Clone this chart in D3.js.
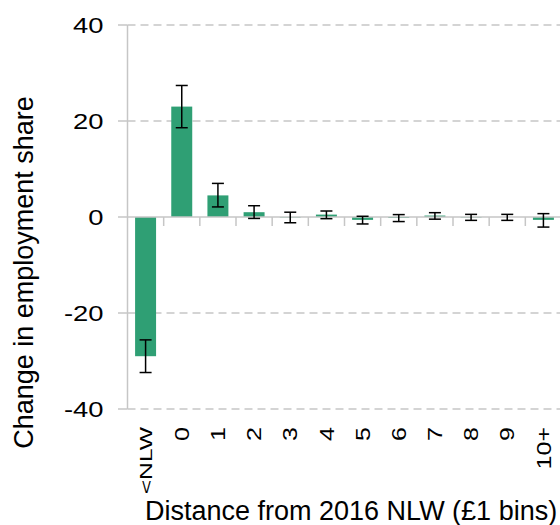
<!DOCTYPE html>
<html>
<head>
<meta charset="utf-8">
<script src="https://cdn.jsdelivr.net/npm/d3@7"></script>
<style>
  html, body { margin: 0; padding: 0; background: #fff; }
  svg { display: block; font-family: "Liberation Sans", Arial, sans-serif; }
</style>
</head>
<body>
<svg id="chart" width="560" height="525"></svg>
<script>
// Distance-from-NLW bins and estimated change in employment share
const categories = ["<NLW", "0", "1", "2", "3", "4", "5", "6", "7", "8", "9", "10+"];
const shareChange = [-29.0, 23.0, 4.5, 1.0, -0.1, 0.5, -0.6, -0.2, 0.3, -0.1, 0.0, -0.6];
const ciLower = [-32.4, 18.6, 2.1, -0.3, -1.2, -0.35, -1.45, -0.95, -0.45, -0.7, -0.7, -2.1];
const ciUpper = [-25.6, 27.4, 7.0, 2.35, 1.0, 1.25, 0.15, 0.5, 0.9, 0.55, 0.55, 0.7];
const yTicks = [-40, -20, 0, 20, 40];

const rows = categories.map((c, i) => ({ cat: c, v: shareChange[i], lo: ciLower[i], hi: ciUpper[i] }));

const svg = d3.select("#chart");
const axisGrey = "#c6c6c6";
const barColour = "#2f9f74";

const plotLeft = 127.5, plotRight = 561.5, plotTop = 25, plotBottom = 409;

const x = d3.scaleBand().domain(categories).range([plotLeft, plotRight])
  .paddingInner(0.42).paddingOuter(0.21);
const y = d3.scaleLinear().domain([-40, 40]).range([plotBottom, plotTop]);
const step = x.step();

// dashed gridlines (zero line is drawn solid later)
svg.append("g").selectAll("line")
  .data(yTicks.filter(t => t !== 0))
  .join("line")
  .attr("x1", plotLeft).attr("x2", 560)
  .attr("y1", d => y(d)).attr("y2", d => y(d))
  .attr("stroke", axisGrey).attr("stroke-width", 1.5)
  .attr("stroke-dasharray", "8,5");

// bars
svg.append("g").selectAll("rect")
  .data(rows)
  .join("rect")
  .attr("x", d => x(d.cat))
  .attr("width", x.bandwidth())
  .attr("y", d => y(Math.max(0, d.v)))
  .attr("height", d => Math.abs(y(d.v) - y(0)))
  .attr("fill", barColour);

// y axis line and ticks
const yAxis = svg.append("g");
yAxis.append("line")
  .attr("x1", plotLeft).attr("x2", plotLeft)
  .attr("y1", y(40)).attr("y2", y(-40))
  .attr("stroke", axisGrey).attr("stroke-width", 1.5);
yAxis.selectAll("line.tick")
  .data(yTicks)
  .join("line").attr("class", "tick")
  .attr("x1", 118).attr("x2", plotLeft)
  .attr("y1", d => y(d)).attr("y2", d => y(d))
  .attr("stroke", axisGrey).attr("stroke-width", 1.5);
yAxis.selectAll("text")
  .data(yTicks)
  .join("text")
  .attr("transform", d => `translate(103.5,${y(d)}) scale(1.28,1)`)
  .attr("text-anchor", "end")
  .attr("dy", "0.36em")
  .attr("font-size", 21.4)
  .attr("fill", "#000")
  .text(d => d);

// zero line with category boundary ticks
const xAxis = svg.append("g");
xAxis.append("line")
  .attr("x1", plotLeft).attr("x2", 560)
  .attr("y1", y(0)).attr("y2", y(0))
  .attr("stroke", axisGrey).attr("stroke-width", 1.5);
xAxis.selectAll("line.tick")
  .data(categories.slice(0, -1))
  .join("line").attr("class", "tick")
  .attr("x1", d => x(d) + x.bandwidth() / 2 + step / 2)
  .attr("x2", d => x(d) + x.bandwidth() / 2 + step / 2)
  .attr("y1", y(0)).attr("y2", y(0) + 9)
  .attr("stroke", axisGrey).attr("stroke-width", 1.5);

// error bars
const err = svg.append("g").attr("stroke", "#000").attr("stroke-width", 1.5);
const cap = 6;
rows.forEach(d => {
  const cx = x(d.cat) + x.bandwidth() / 2;
  err.append("line").attr("x1", cx).attr("x2", cx).attr("y1", y(d.hi)).attr("y2", y(d.lo));
  err.append("line").attr("x1", cx - cap).attr("x2", cx + cap).attr("y1", y(d.hi)).attr("y2", y(d.hi));
  err.append("line").attr("x1", cx - cap).attr("x2", cx + cap).attr("y1", y(d.lo)).attr("y2", y(d.lo));
});

// rotated category labels; the word label is set narrower and longer than the digits
svg.append("g").selectAll("text")
  .data(categories)
  .join("text")
  .attr("transform", d => {
    const stretch = /\d/.test(d) ? 1.25 : 1.45;
    return `translate(${x(d) + x.bandwidth() / 2},427) rotate(-90) scale(${stretch},1)`;
  })
  .attr("text-anchor", "end")
  .attr("dy", "0.36em")
  .attr("font-size", d => /\d/.test(d) ? 20 : 17)
  .attr("fill", "#000")
  .text(d => d);

// axis titles
svg.append("text")
  .attr("transform", "translate(33,272.5) rotate(-90)")
  .attr("text-anchor", "middle")
  .attr("font-size", 27)
  .attr("fill", "#000")
  .text("Change in employment share");

svg.append("text")
  .attr("x", 145).attr("y", 519.5)
  .attr("font-size", 27)
  .attr("fill", "#000")
  .text("Distance from 2016 NLW (£1 bins)");
</script>
</body>
</html>
